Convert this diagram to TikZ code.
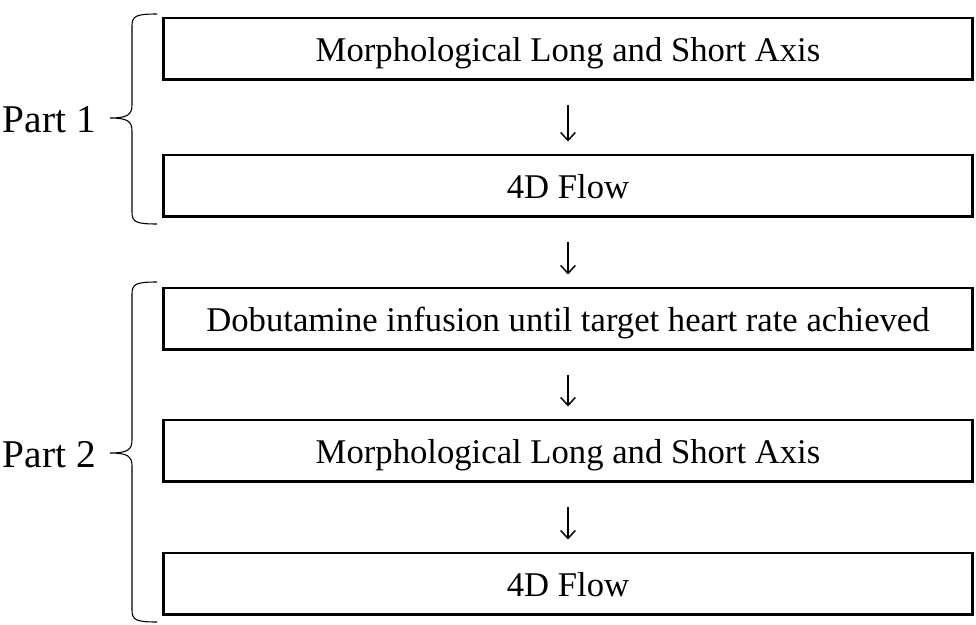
\documentclass[tikz,border=0pt]{standalone}
\usepackage{fontspec}
\setmainfont{Liberation Serif}
\usetikzlibrary{arrows.meta}

\tikzset{
  stepbox/.style={draw, line width=2pt, minimum width=607pt, minimum height=46pt,
    inner sep=0pt, text height=22pt, text depth=2pt, font=\fontsize{26}{30}\selectfont},
  flowarrow/.style={-{Straight Barb[length=6pt,width=11pt,line width=1.1pt]}, line width=1.1pt,
    shorten <=18pt, shorten >=9pt},
  partbrace/.style={line width=0.8pt},
  partlabel/.style={anchor=east, inner sep=0pt, font=\fontsize{29.5}{33}\selectfont}
}

\begin{document}
\begin{tikzpicture}[x=0.75pt, y=-0.75pt]
  \useasboundingbox (0,0) rectangle (976,625);

  % Kaesten
  \node[stepbox] (morphA) at (568,48.5) {Morphological Long and Short Axis};
  \node[stepbox] (flowA)  at (568,185.5) {4D Flow};
  \node[stepbox] (dobut)  at (568,318.5) {Dobutamine infusion until target heart rate achieved};
  \node[stepbox] (morphB) at (568,450.5) {Morphological Long and Short Axis};
  \node[stepbox] (flowB)  at (568,583.5) {4D Flow};

  % Pfeile
  \draw[flowarrow] (morphA) -- (flowA);
  \draw[flowarrow] (flowA) -- (dobut);
  \draw[flowarrow] (dobut) -- (morphB);
  \draw[flowarrow] (morphB) -- (flowB);

  % Klammern (oben/unten/Spitze)
  \foreach \t/\b/\m in {14/224/118, 282/622/453}{
    \draw[partbrace] (157,\t) .. controls (136,\t) and (132,\t+2) .. (132,\t+12)
      -- (132,\m-13) .. controls (132,\m-3) and (127,\m) .. (110,\m)
      .. controls (127,\m) and (132,\m+3) .. (132,\m+13)
      -- (132,\b-12) .. controls (132,\b-2) and (136,\b) .. (157,\b);
  }

  % Beschriftungen
  \node[partlabel] (partA) at (96,120) {Part 1};
  \node[partlabel] (partB) at (96,455) {Part 2};

\end{tikzpicture}
\end{document}
